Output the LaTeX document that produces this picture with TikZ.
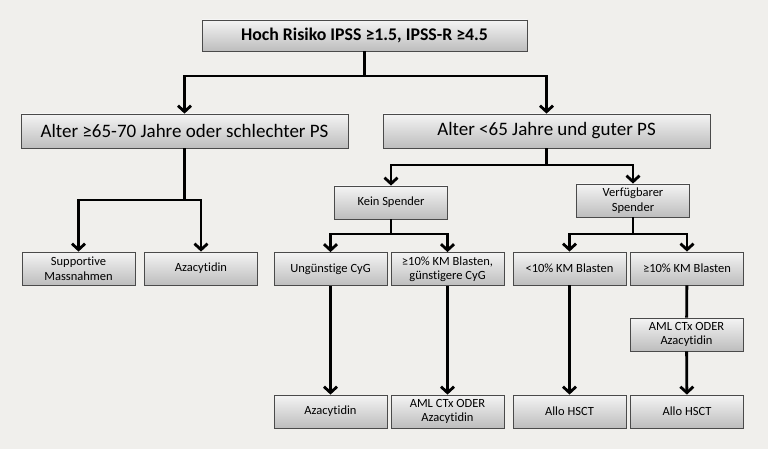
\documentclass[tikz,border=0pt]{standalone}
\usepackage{fontspec}
\setmainfont{Carlito}[Ligatures={NoCommon}]
\usetikzlibrary{arrows.meta}
\definecolor{bg}{HTML}{F0EFEC}
\definecolor{boxtop}{HTML}{F4F4F4}
\definecolor{boxbot}{HTML}{BDBDBD}
\definecolor{boxline}{HTML}{4A4A4A}
\begin{document}
\begin{tikzpicture}[x=1pt,y=-1pt,
  box/.style={draw=boxline, line width=0.8pt, top color=boxtop, bottom color=boxbot,
    align=center, inner sep=1pt, font=\fontsize{12.5}{14.5}\selectfont},
  bigbox/.style={box, minimum width=327pt, minimum height=34pt, font=\fontsize{19}{21}\selectfont},
  smallbox/.style={box, minimum width=113pt, minimum height=33pt},
  conn/.style={line width=2.8pt, black},
  arr/.style={conn, -{Straight Barb[length=6pt,width=13pt]}}]
\fill[bg] (0,0) rectangle (768,449);
\useasboundingbox (0,0) rectangle (768,449);

\node[box, minimum width=325pt, minimum height=31pt, font=\bfseries\fontsize{17.8}{20}\selectfont] (top) at (364.5,35.5) {Hoch Risiko IPSS ≥1.5, IPSS-R ≥4.5};
\node[bigbox] (a1) at (184.5,131) {Alter ≥65-70 Jahre oder schlechter PS};
\node[bigbox] (a2) at (546.5,131) {Alter <65 Jahre und guter PS};

\node[smallbox] (b1) at (391,202.5) {Kein Spender};
\node[smallbox] (b2) at (633,200.5) {Verfügbarer\\Spender};

\node[smallbox] (c1) at (78.5,268.5) {Supportive\\Massnahmen};
\node[smallbox] (c2) at (201,268.5) {Azacytidin};
\node[smallbox] (c3) at (330.5,269) {Ungünstige CyG};
\node[smallbox] (c4) at (447.5,269) {≥10\% KM Blasten,\\günstigere CyG};
\node[smallbox] (c5) at (569.5,268.5) {<10\% KM Blasten};
\node[smallbox] (c6) at (687,268.5) {≥10\% KM Blasten};

\node[smallbox] (m) at (686.5,334.5) {AML CTx ODER\\Azacytidin};

\node[smallbox] (d1) at (330.5,411.5) {Azacytidin};
\node[smallbox] (d2) at (447.5,411.5) {AML CTx ODER\\Azacytidin};
\node[smallbox] (d3) at (569.5,411.5) {Allo HSCT};
\node[smallbox] (d4) at (687,411.5) {Allo HSCT};

\coordinate (j0) at (364.5,76);
\coordinate (j1) at (184.5,200);
\coordinate (j2) at (546.5,165);
\coordinate (j3) at (391,234);
\coordinate (j4) at (633,234);

\draw[conn] (top) -- (j0);
\draw[arr] (j0) -| (a1);
\draw[arr] (j0) -| (a2);

\draw[conn] (a1) -- (j1);
\draw[arr] (j1) -| (c1);
\draw[arr] (j1) -| (c2);

\draw[conn] (a2) -- (j2);
\draw[arr] (j2) -| (b1);
\draw[arr] (j2) -| (b2);

\draw[conn] (b1) -- (j3);
\draw[arr] (j3) -| (c3);
\draw[arr] (j3) -| (c4);

\draw[conn] (b2) -- (j4);
\draw[arr] (j4) -| (c5);
\draw[arr] (j4) -| (c6);

\draw[arr] (c3) -- (d1);
\draw[arr] (c4) -- (d2);
\draw[arr] (c5) -- (d3);
\draw[conn] (c6) -- (m);
\draw[arr] (m) -- (d4);
\end{tikzpicture}
\end{document}
